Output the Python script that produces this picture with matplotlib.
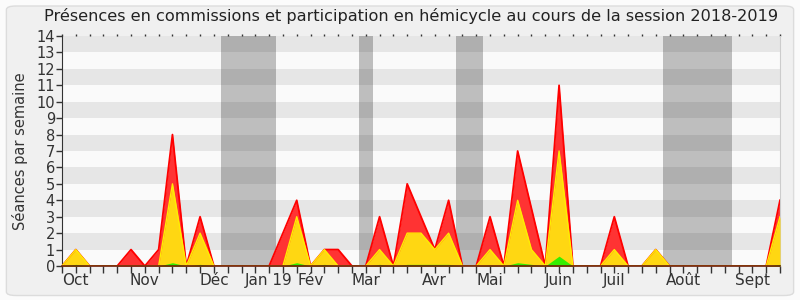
import matplotlib
matplotlib.use("Agg")
import matplotlib.pyplot as plt
from matplotlib.patches import FancyBboxPatch
import numpy as np

weeks = list(range(53))
red = [0, 1, 0, 0, 0, 1, 0, 1, 8, 0, 3, 0, 0, 0, 0, 0, 2, 4, 0, 1, 1, 0, 0, 3, 0, 5, 3, 1, 4, 0,
       0, 3, 0, 7, 3.5, 0, 11, 0, 0, 0, 3, 0, 0, 1, 0, 0, 0, 0, 0, 0, 0, 0, 4]
yellow = [0, 1, 0, 0, 0, 0, 0, 0, 5, 0, 2, 0, 0, 0, 0, 0, 0, 3, 0, 1, 0, 0, 0, 1, 0, 2, 2, 1, 2, 0,
          0, 1, 0, 4, 1, 0, 7, 0, 0, 0, 1, 0, 0, 1, 0, 0, 0, 0, 0, 0, 0, 0, 3]
green = [0, 0.1, 0, 0, 0, 0, 0, 0, 0.2, 0, 0.1, 0, 0, 0, 0, 0, 0, 0.2, 0, 0.1, 0, 0, 0, 0.1, 0, 0.1, 0.1, 0.1, 0.1, 0,
         0, 0.05, 0, 0.2, 0.1, 0, 0.6, 0, 0, 0, 0.05, 0, 0, 0.05, 0, 0, 0, 0, 0, 0, 0, 0, 0.1]
vacations = [(11.5, 15.5), (21.5, 22.5), (28.5, 30.5), (43.5, 48.5)]
month_pos = [1, 6, 11, 15, 18, 22, 27, 31, 36, 40, 45, 50]
month_labels = ["Oct", "Nov", "Déc", "Jan 19", "Fév", "Mar", "Avr", "Mai", "Juin", "Juil", "Août", "Sept"]

fig = plt.figure(figsize=(8, 3), dpi=100, facecolor="#fbfbfb")
fig.patches.append(FancyBboxPatch((0.008, 0.015), 0.984, 0.965, boxstyle="round,pad=0,rounding_size=0.012",
                                  transform=fig.transFigure, facecolor="#f0f0f0", edgecolor="#dcdcdc",
                                  linewidth=1, zorder=-10))
ax = fig.add_axes([62/800, 1-266/300, (780-62)/800, (266-36)/300])
ax.set_facecolor("#fafafa")
ax.set_xlim(0, 52)
ax.set_ylim(0, 14)

for k in range(1, 14, 2):
    ax.axhspan(k, k+1, color="#e6e6e6", zorder=0, lw=0)
for a, b in vacations:
    ax.axvspan(a, b, color="black", alpha=0.24, zorder=1, lw=0)

ax.fill_between(weeks, 0, red, color="#ff3333", zorder=2, lw=0)
ax.plot(weeks, red, color="#ff0000", lw=1.3, zorder=3)
ax.fill_between(weeks, 0, yellow, color="#ffd712", zorder=4, lw=0)
ax.plot(weeks, yellow, color="#ffee00", lw=1, zorder=5)
ax.fill_between(weeks, 0, green, color="#33ee00", zorder=6, lw=0)
ax.axhline(0, color="#6b1e0a", lw=1.2, zorder=7, clip_on=False)

ax.xaxis.remove_overlapping_locs = False
ax.set_yticks(range(0, 15))
ax.set_xticks(range(0, 53))
ax.set_xticklabels([])
ax.set_xticks(month_pos, minor=True)
ax.set_xticklabels(month_labels, minor=True)
ax.tick_params(axis="x", which="major", length=5, width=1, color="#333333", top=True, bottom=True)
ax.tick_params(axis="x", which="minor", length=0, labelsize=11, labelcolor="#333333", pad=5)
ax.tick_params(axis="y", length=4, width=1, color="#333333", labelsize=10.5, labelcolor="#333333", pad=1)
for t in ax.xaxis.get_major_ticks():
    t.tick2line.set_markersize(1.5)

ax.spines["top"].set_visible(False)
ax.spines["right"].set_color("#cccccc")
ax.spines["left"].set_color("#333333")
ax.spines["bottom"].set_visible(False)

ax.set_ylabel("Séances par semaine", fontsize=10.5, color="#333333", labelpad=6)
fig.suptitle("Présences en commissions et participation en hémicycle au cours de la session 2018-2019",
             x=0.514, y=0.975, fontsize=11.6, color="#222222", va="top")

fig.savefig("out.png", dpi=100, facecolor=fig.get_facecolor())
